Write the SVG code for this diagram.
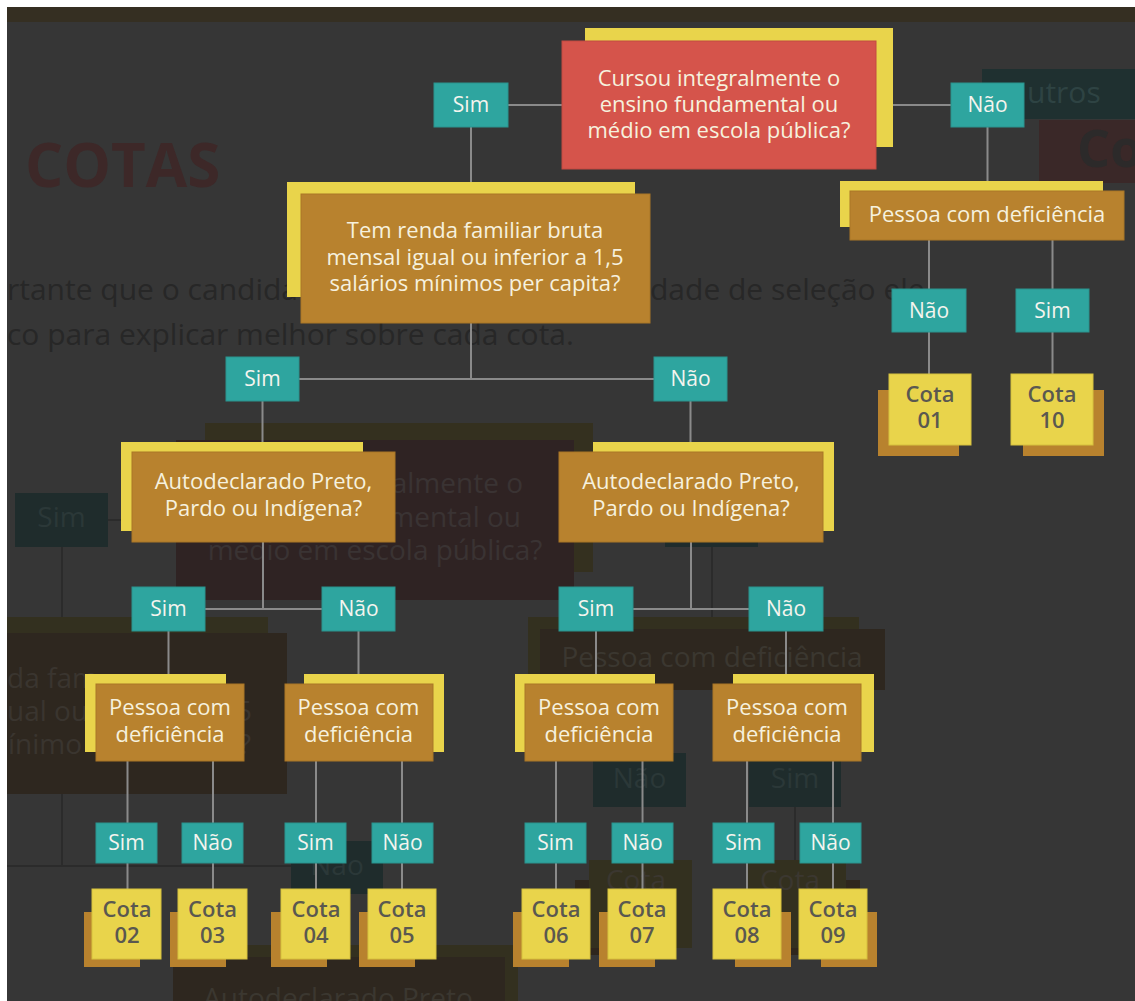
<svg xmlns="http://www.w3.org/2000/svg" width="1135" height="1001" viewBox="0 0 1135 1001">
<style>
text { font-family: 'Open Sans', 'Noto Sans', 'DejaVu Sans', sans-serif; }
.q { font-size: 22px; fill: #f6f1de; text-anchor: middle; }
.lb { font-size: 21px; fill: #f4f4ee; text-anchor: middle; }
.ct { font-size: 22px; font-weight: 600; fill: #5a5850; text-anchor: middle; }
.teal { fill: #2ea59f; stroke: #2a938e; stroke-width: 1; }
.yel { fill: #e9d44b; }
.brn { fill: #b8822e; stroke: #a97627; stroke-width: 1; }
.red { fill: #d5544b; stroke: #c24a42; stroke-width: 1; }
.cy { fill: #e9d44b; stroke: #d6c13f; stroke-width: 1; }
.cb { fill: #b8822e; }
.conn path { stroke: #8a8a8a; stroke-width: 2; fill: none; }
.gline { stroke: #2b2b2b; stroke-width: 2; fill: none; }
.gt { font-size: 28px; text-anchor: middle; }
.gbody { font-size: 30px; fill: #272727; }
</style>

<!-- background page (faded) -->
<g id="background">
  <rect x="0" y="0" width="1135" height="1001" fill="#363636"/>
  <rect x="7" y="7" width="1128" height="15" fill="#352f22"/>
  <text x="25" y="187" font-size="60" font-weight="700" fill="#3d2828">COTAS</text>
  <text class="gbody" x="7" y="300">rtante que o candida</text>
  <text class="gbody" x="650" y="300">dade de seleção ele</text>
  <text class="gbody" x="7" y="345">co para explicar melhor sobre cada cota.</text>
  <rect x="982" y="69" width="153" height="50" fill="#1f3030"/>
  <text x="1027" y="103" font-size="30" fill="#2e4343">utros</text>
  <rect x="1039" y="120" width="96" height="63" fill="#3a2828"/>
  <text x="1077" y="167" font-size="52" font-weight="700" fill="#2c2a2a">Co</text>

  <rect x="205" y="423" width="388" height="149" fill="#34301f"/>
  <rect x="176" y="440" width="398" height="160" fill="#2f2323"/>
  <text class="gt" x="523" y="493" text-anchor="end" fill="#3a3333" style="text-anchor:end">almente o</text>
  <text class="gt" x="521" y="527" fill="#3a3333" style="text-anchor:end">mental ou</text>
  <text class="gt" x="375" y="560" fill="#3a3333">médio em escola pública?</text>

  <rect x="665" y="492" width="93" height="55" fill="#1f2c2c"/>
  <path class="gline" d="M712,547 V617"/>

  <rect x="15" y="493" width="93" height="54" fill="#1f2c2c"/>
  <text class="gt" x="61.5" y="527" fill="#2b3838">Sim</text>
  <path class="gline" d="M108,520 H121 M62,547 V617 M62,794 V866 M7,866 H291"/>

  <rect x="7" y="617" width="261" height="150" fill="#33301f"/>
  <rect x="7" y="633" width="280" height="161" fill="#2e271f"/>
  <text x="7" y="688" font-size="28" fill="#3a352f">da fam</text>
  <text x="7" y="721" font-size="28" fill="#3a352f">ual ou</text>
  <text x="-18" y="754" font-size="28" fill="#3a352f">mínimo</text>
  <text x="252" y="721" font-size="28" fill="#3a352f" text-anchor="end">5</text>
  <text x="251" y="754" font-size="28" fill="#3a352f" text-anchor="end">?</text>

  <rect x="528" y="617" width="331" height="60" fill="#33301f"/>
  <rect x="540" y="629" width="345" height="61" fill="#2e271f"/>
  <text class="gt" x="712" y="667" fill="#3b3730">Pessoa com deficiência</text>
  <path class="gline" d="M640,690 V753 M795,690 V753 M642,807 V860 M795,807 V860"/>
  <rect x="593" y="753" width="93" height="54" fill="#1f2c2c"/>
  <text class="gt" x="639.5" y="788" fill="#2b3838">Não</text>
  <rect x="749" y="753" width="92" height="54" fill="#1f2c2c"/>
  <text class="gt" x="795" y="788" fill="#2b3838">Sim</text>

  <rect x="575" y="880" width="100" height="75" fill="#2e261d"/>
  <rect x="589" y="860" width="103" height="88" fill="#33301f"/>
  <text class="gt" x="636" y="890" fill="#3b3730">Cota</text>
  <rect x="760" y="880" width="100" height="75" fill="#2e261d"/>
  <rect x="747" y="860" width="99" height="88" fill="#33301f"/>
  <text class="gt" x="790" y="890" fill="#3b3730">Cota</text>

  <rect x="291" y="841" width="92" height="53" fill="#1f2c2c"/>
  <text class="gt" x="337" y="875" fill="#2b3838">Não</text>

  <rect x="190" y="945" width="328" height="56" fill="#33301f"/>
  <rect x="173" y="957" width="332" height="44" fill="#2e271f"/>
  <text class="gt" x="338" y="1008" fill="#3b3730">Autodeclarado Preto</text>
</g>

<!-- connectors -->
<g id="connectors" class="conn">
  <path d="M508,105 H562"/>
  <path d="M876,105 H951"/>
  <path d="M471,127 V379"/>
  <path d="M299,379 H654"/>
  <path d="M262.5,401 V442"/>
  <path d="M690.5,401 V442"/>
  <path d="M987.5,127 V181"/>
  <path d="M929,240 V289 M929,332 V374"/>
  <path d="M1052.5,240 V289 M1052.5,332 V374"/>
  <path d="M263,542 V609 M205,609 H322"/>
  <path d="M691,542 V609 M633,609 H749"/>
  <path d="M168.5,631 V674 M358.5,631 V674 M596,631 V674 M786,631 V674"/>
  <path d="M127.5,761 V889 M213,761 V889 M316,761 V889 M402,761 V889"/>
  <path d="M556,761 V889 M642.5,761 V889 M747,761 V889 M833,761 V889"/>
</g>

<!-- nodes -->
<g id="q-escola">
  <rect class="yel" x="585" y="28" width="308" height="119"/>
  <rect class="red" x="562" y="41" width="314" height="128"/>
  <text class="q" x="719" y="86">Cursou integralmente o</text>
  <text class="q" x="719" y="112">ensino fundamental ou</text>
  <text class="q" x="719" y="138">médio em escola pública?</text>
</g>
<g id="a-sim-escola"><rect class="teal" x="434" y="83" width="74" height="44"/><text class="lb" x="471" y="112">Sim</text></g>
<g id="a-nao-escola"><rect class="teal" x="951" y="83" width="73" height="44"/><text class="lb" x="987.5" y="112">Não</text></g>

<g id="q-renda">
  <rect class="yel" x="287" y="182" width="348" height="115"/>
  <rect class="brn" x="301" y="194" width="349" height="129"/>
  <text class="q" x="475" y="238">Tem renda familiar bruta</text>
  <text class="q" x="475" y="264.5">mensal igual ou inferior a 1,5</text>
  <text class="q" x="475" y="291">salários mínimos per capita?</text>
</g>

<g id="q-pcd-outros">
  <rect class="yel" x="840" y="181" width="263" height="46"/>
  <rect class="brn" x="850" y="191" width="274" height="49"/>
  <text class="q" x="987" y="222">Pessoa com deficiência</text>
</g>
<g id="a-nao-pcd-outros"><rect class="teal" x="892" y="289" width="74" height="43"/><text class="lb" x="929" y="318">Não</text></g>
<g id="a-sim-pcd-outros"><rect class="teal" x="1016" y="289" width="73" height="43"/><text class="lb" x="1052.5" y="318">Sim</text></g>
<g id="cota-01">
  <rect class="cb" x="878" y="390" width="81" height="66"/>
  <rect class="cy" x="889" y="374" width="82" height="71"/>
  <text class="ct" x="930" y="402">Cota</text><text class="ct" x="930" y="428">01</text>
</g>
<g id="cota-10">
  <rect class="cb" x="1023" y="390" width="81" height="66"/>
  <rect class="cy" x="1011" y="374" width="82" height="71"/>
  <text class="ct" x="1052" y="402">Cota</text><text class="ct" x="1052" y="428">10</text>
</g>

<g id="a-sim-renda"><rect class="teal" x="226" y="357" width="73" height="44"/><text class="lb" x="262.5" y="386">Sim</text></g>
<g id="a-nao-renda"><rect class="teal" x="654" y="357" width="73" height="44"/><text class="lb" x="690.5" y="386">Não</text></g>

<g id="q-ppi-1">
  <rect class="yel" x="121" y="442" width="242" height="89"/>
  <rect class="brn" x="132" y="452" width="263" height="90"/>
  <text class="q" x="263.5" y="489">Autodeclarado Preto,</text>
  <text class="q" x="263.5" y="516">Pardo ou Indígena?</text>
</g>
<g id="q-ppi-2">
  <rect class="yel" x="593" y="442" width="241" height="89"/>
  <rect class="brn" x="559" y="452" width="264" height="90"/>
  <text class="q" x="691" y="489">Autodeclarado Preto,</text>
  <text class="q" x="691" y="516">Pardo ou Indígena?</text>
</g>

<g id="a-sim-ppi-1"><rect class="teal" x="132" y="587" width="73" height="44"/><text class="lb" x="168.5" y="616">Sim</text></g>
<g id="a-nao-ppi-1"><rect class="teal" x="322" y="587" width="73" height="44"/><text class="lb" x="358.5" y="616">Não</text></g>
<g id="a-sim-ppi-2"><rect class="teal" x="559" y="587" width="74" height="44"/><text class="lb" x="596" y="616">Sim</text></g>
<g id="a-nao-ppi-2"><rect class="teal" x="749" y="587" width="74" height="44"/><text class="lb" x="786" y="616">Não</text></g>

<g id="q-pcd-1">
  <rect class="yel" x="85" y="674" width="141" height="78"/>
  <rect class="brn" x="96" y="684" width="148" height="77"/>
  <text class="q" x="170" y="715">Pessoa com</text><text class="q" x="170" y="741.5">deficiência</text>
</g>
<g id="q-pcd-2">
  <rect class="yel" x="304" y="674" width="140" height="78"/>
  <rect class="brn" x="285" y="684" width="148" height="77"/>
  <text class="q" x="358.5" y="715">Pessoa com</text><text class="q" x="358.5" y="741.5">deficiência</text>
</g>
<g id="q-pcd-3">
  <rect class="yel" x="515" y="674" width="140" height="78"/>
  <rect class="brn" x="525" y="684" width="148" height="77"/>
  <text class="q" x="599" y="715">Pessoa com</text><text class="q" x="599" y="741.5">deficiência</text>
</g>
<g id="q-pcd-4">
  <rect class="yel" x="733" y="674" width="141" height="78"/>
  <rect class="brn" x="713" y="684" width="148" height="77"/>
  <text class="q" x="787" y="715">Pessoa com</text><text class="q" x="787" y="741.5">deficiência</text>
</g>

<g id="a-sim-pcd-1"><rect class="teal" x="96" y="823" width="61" height="40"/><text class="lb" x="126.5" y="850">Sim</text></g>
<g id="a-nao-pcd-1"><rect class="teal" x="182" y="823" width="61" height="40"/><text class="lb" x="212.5" y="850">Não</text></g>
<g id="a-sim-pcd-2"><rect class="teal" x="285" y="823" width="61" height="40"/><text class="lb" x="315.5" y="850">Sim</text></g>
<g id="a-nao-pcd-2"><rect class="teal" x="372" y="823" width="61" height="40"/><text class="lb" x="402.5" y="850">Não</text></g>
<g id="a-sim-pcd-3"><rect class="teal" x="525" y="823" width="61" height="40"/><text class="lb" x="555.5" y="850">Sim</text></g>
<g id="a-nao-pcd-3"><rect class="teal" x="612" y="823" width="61" height="40"/><text class="lb" x="642.5" y="850">Não</text></g>
<g id="a-sim-pcd-4"><rect class="teal" x="713" y="823" width="61" height="40"/><text class="lb" x="743.5" y="850">Sim</text></g>
<g id="a-nao-pcd-4"><rect class="teal" x="800" y="823" width="61" height="40"/><text class="lb" x="830.5" y="850">Não</text></g>

<g id="cota-02"><rect class="cb" x="84" y="912" width="56" height="55"/><rect class="cy" x="92" y="889" width="69" height="70"/><text class="ct" x="127" y="917">Cota</text><text class="ct" x="127" y="943">02</text></g>
<g id="cota-03"><rect class="cb" x="170" y="912" width="56" height="55"/><rect class="cy" x="178" y="889" width="69" height="70"/><text class="ct" x="212.5" y="917">Cota</text><text class="ct" x="212.5" y="943">03</text></g>
<g id="cota-04"><rect class="cb" x="271" y="912" width="56" height="55"/><rect class="cy" x="281" y="889" width="69" height="70"/><text class="ct" x="316" y="917">Cota</text><text class="ct" x="316" y="943">04</text></g>
<g id="cota-05"><rect class="cb" x="359" y="912" width="56" height="55"/><rect class="cy" x="368" y="889" width="68" height="70"/><text class="ct" x="402" y="917">Cota</text><text class="ct" x="402" y="943">05</text></g>
<g id="cota-06"><rect class="cb" x="513" y="912" width="56" height="55"/><rect class="cy" x="522" y="889" width="68" height="70"/><text class="ct" x="556" y="917">Cota</text><text class="ct" x="556" y="943">06</text></g>
<g id="cota-07"><rect class="cb" x="599" y="912" width="56" height="55"/><rect class="cy" x="608" y="889" width="68" height="70"/><text class="ct" x="642" y="917">Cota</text><text class="ct" x="642" y="943">07</text></g>
<g id="cota-08"><rect class="cb" x="735" y="912" width="56" height="55"/><rect class="cy" x="713" y="889" width="68" height="70"/><text class="ct" x="747" y="917">Cota</text><text class="ct" x="747" y="943">08</text></g>
<g id="cota-09"><rect class="cb" x="821" y="912" width="56" height="55"/><rect class="cy" x="799" y="889" width="68" height="70"/><text class="ct" x="833" y="917">Cota</text><text class="ct" x="833" y="943">09</text></g>

<!-- white page margins -->
<rect x="0" y="0" width="1135" height="7" fill="#ffffff"/>
<rect x="0" y="0" width="7" height="1001" fill="#ffffff"/>
</svg>
